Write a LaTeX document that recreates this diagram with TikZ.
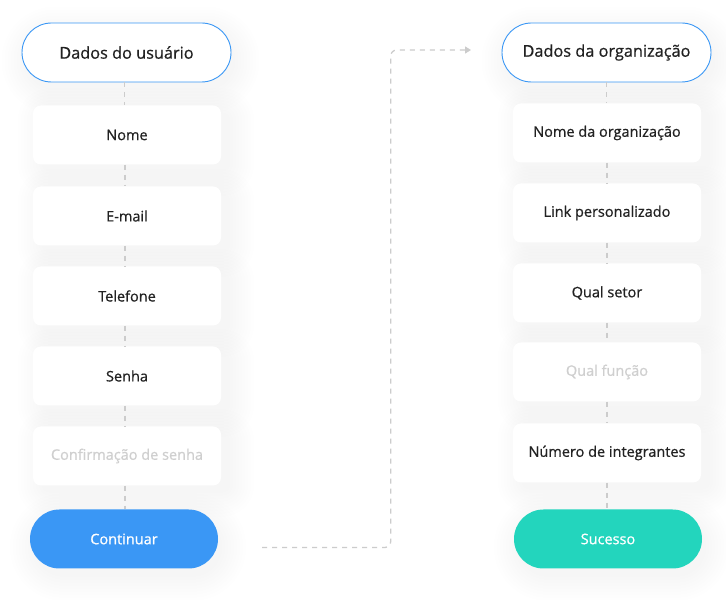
\documentclass[tikz,border=0pt]{standalone}
\usepackage{fontspec}
\setmainfont{Open Sans}[FakeBold=0.7]
\newfontfamily\uifont{Open Sans}[FakeBold=0.7]
\usetikzlibrary{arrows.meta,calc}
\pgfdeclarelayer{bg}
\pgfsetlayers{bg,main}
\definecolor{pillblue}{HTML}{3A97F5}
\definecolor{okgreen}{HTML}{23D5BD}
\definecolor{txt}{HTML}{222222}
\definecolor{faint}{HTML}{CFCFCF}
\definecolor{dashc}{HTML}{CCCCCC}
\tikzset{
  x=1pt,y=1pt,
  header/.style={draw=pillblue,line width=0.9pt,fill=white,rounded corners=29.5pt,
    minimum width=209pt,minimum height=59pt,inner sep=0pt,
    font=\uifont\fontsize{16.3}{19}\selectfont,text=txt},
  card/.style={fill=white,rounded corners=8pt,minimum width=188pt,minimum height=59pt,inner sep=0pt,
    font=\uifont\fontsize{14.5}{17}\selectfont,text=txt},
  faintcard/.style={card,text=faint},
  action/.style={rounded corners=29.5pt,minimum width=188pt,minimum height=59pt,inner sep=0pt,
    font=\uifont\fontsize{14.5}{17}\selectfont,text=white},
  link/.style={draw=dashc,line width=1.3pt,dash pattern=on 5pt off 5pt},
  shadowlayer/.style={fill=black,fill opacity=0.003},
}
\begin{document}
\begin{tikzpicture}
\useasboundingbox (0,0) rectangle (726,600);
% left column
\node[header] (h1) at (126.5,547.5) {Dados do usuário};
\node[card] (c1) at (127,465) {Nome};
\node[card] (c2) at (127,384) {E-mail};
\node[card] (c3) at (127,304) {Telefone};
\node[card] (c4) at (127,224) {Senha};
\node[faintcard] (c5) at (127,144) {Confirmação de senha};
\node[action,fill=pillblue] (b1) at (124,61) {Continuar};
% right column
\node[header] (h2) at (606.5,547.5) {Dados da organização};
\node[card] (d1) at (607,467) {Nome da organização};
\node[card] (d2) at (607,387) {Link personalizado};
\node[card] (d3) at (607,307) {Qual setor};
\node[faintcard] (d4) at (607,228) {Qual função};
\node[card] (d5) at (607,147) {Número de integrantes};
\node[action,fill=okgreen] (b2) at (608,61) {Sucesso};
% background and soft shadows
\begin{pgfonlayer}{bg}
\fill[white] (0,0) rectangle (726,600);
\foreach \n in {c1,c2,c3,c4,c5,d1,d2,d3,d4,d5}
  \foreach \r in {0,3,...,24}
    \fill[shadowlayer,rounded corners={8pt+\r pt}]
      ($(\n.south west)+(9-\r,-7-\r)$) rectangle ($(\n.north east)+(9+\r,-7+\r)$);
\foreach \n in {h1,h2,b1,b2}
  \foreach \r in {0,3,...,24}
    \fill[shadowlayer,rounded corners={29.5pt+\r pt}]
      ($(\n.south west)+(4-\r,-8-\r)$) rectangle ($(\n.north east)+(4+\r,-8+\r)$);
\end{pgfonlayer}
% vertical connectors
\foreach \a/\b in {h1/c1,c1/c2,c2/c3,c3/c4,c4/c5,c5/b1}
  \draw[link] ([xshift=-2pt]\a.south) -- ([xshift=-2pt]\a.south |- \b.north);
\foreach \a/\b in {h2/d1,d1/d2,d2/d3,d3/d4,d4/d5,d5/b2}
  \draw[link] (\a.south) -- (\a.south |- \b.north);
% cross connector
\coordinate (s) at (262,52.5);
\coordinate (e) at (471,550);
\draw[link,rounded corners=6pt,-{Triangle[length=6pt,width=7pt]}]
  (s) -- (390.7,52.5) -- (390.7,550) -- (e);
\end{tikzpicture}
\end{document}
